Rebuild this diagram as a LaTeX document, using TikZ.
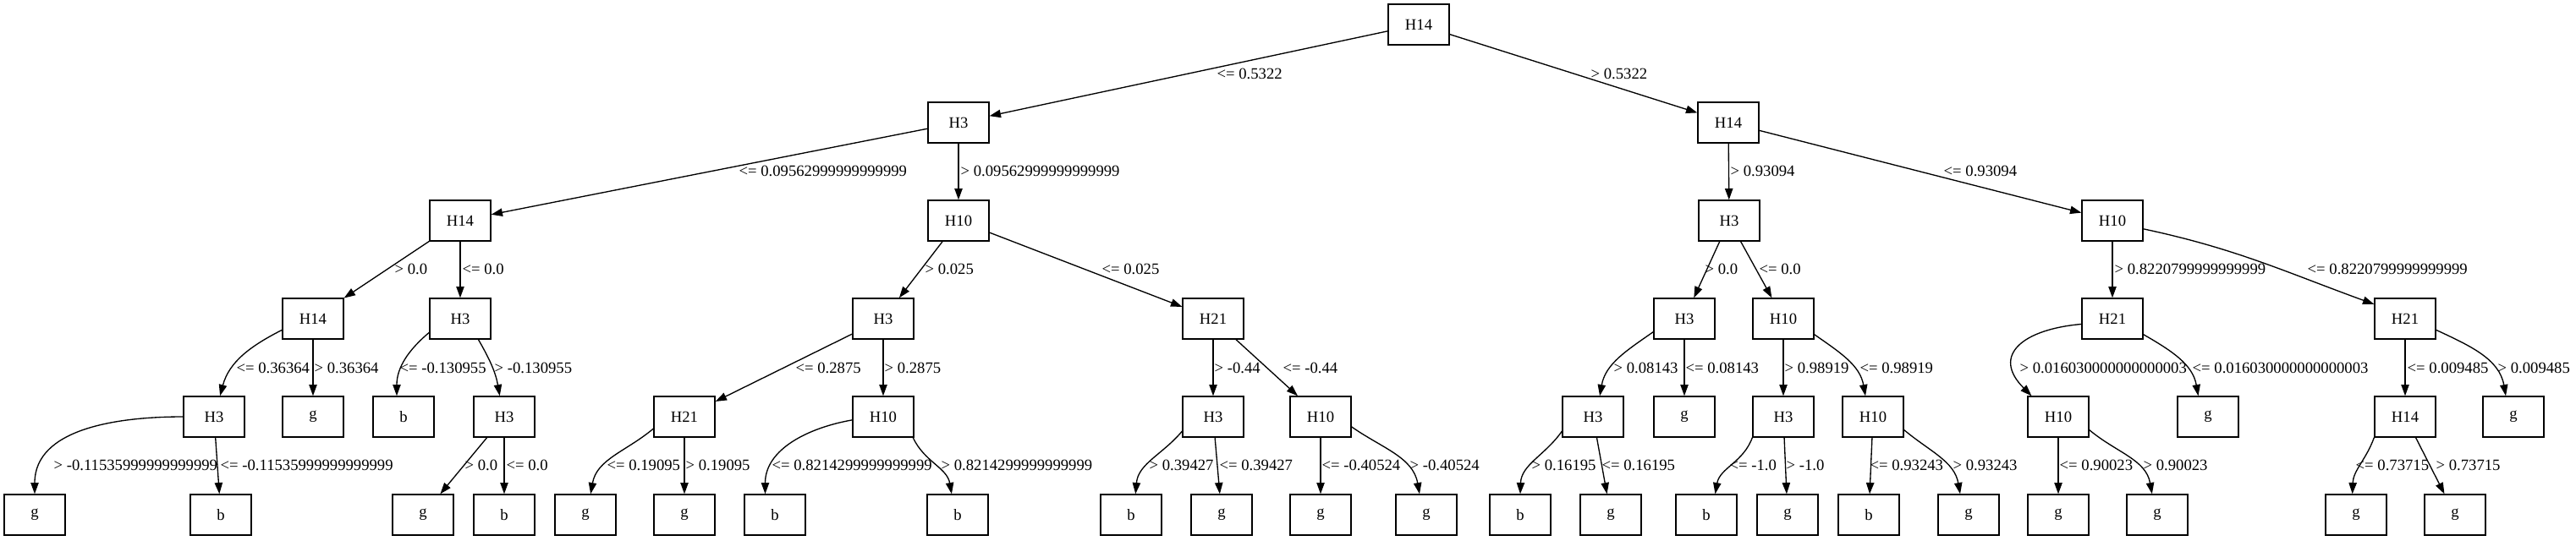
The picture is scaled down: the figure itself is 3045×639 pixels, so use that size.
\documentclass[tikz,border=0pt]{standalone}
\usepackage{fontspec}
\setmainfont{Liberation Serif}
\usetikzlibrary{arrows.meta}

\begin{document}
\begin{tikzpicture}[
	x=0.75pt, y=0.75pt,
	>={Triangle[length=10pt, width=7pt]},
	every node/.style={font=\fontsize{14}{17}\selectfont},
	box/.style={draw, rectangle, line width=1pt, minimum width=54pt, minimum height=36pt, inner sep=0pt},
	edge/.style={->, line width=1pt},
	lbl/.style={anchor=west, inner sep=0pt}
	]
	\useasboundingbox (0,0) rectangle (3045,-639);
	
	% Root and first split
	\node[box] (t)   at (1677,-29)  {H14};
	\node[box] (t1)  at (1133,-145) {H3};
	\node[box] (t2)  at (2043,-145) {H14};
	
	% Level 2
	\node[box] (t11) at (544,-261)  {H14};
	\node[box] (t12) at (1133,-261) {H10};
	\node[box] (t21) at (2044,-261) {H3};
	\node[box] (t22) at (2497,-261) {H10};
	
	% Level 3
	\node[box] (t111) at (370,-377)  {H14};
	\node[box] (t112) at (544,-377)  {H3};
	\node[box] (t121) at (1044,-377) {H3};
	\node[box] (t122) at (1434,-377) {H21};
	\node[box] (t211) at (1991,-377) {H3};
	\node[box] (t212) at (2108,-377) {H10};
	\node[box] (t221) at (2497,-377) {H21};
	\node[box] (t222) at (2843,-377) {H21};
	
	% Level 4
	\node[box] (t1111) at (253,-493)  {H3};
	\node[box] (t1112) at (370,-493)  {g};
	\node[box] (t1121) at (477,-493)  {b};
	\node[box] (t1122) at (596,-493)  {H3};
	\node[box] (t1211) at (809,-493)  {H21};
	\node[box] (t1212) at (1044,-493) {H10};
	\node[box] (t1221) at (1434,-493) {H3};
	\node[box] (t1222) at (1561,-493) {H10};
	\node[box] (t2111) at (1883,-493) {H3};
	\node[box] (t2112) at (1991,-493) {g};
	\node[box] (t2121) at (2108,-493) {H3};
	\node[box] (t2122) at (2214,-493) {H10};
	\node[box] (t2211) at (2433,-493) {H10};
	\node[box] (t2212) at (2610,-493) {g};
	\node[box] (t2221) at (2843,-493) {H14};
	\node[box] (t2222) at (2971,-493) {g};
	
	% Leaves
	\node[box] (t11111) at (41,-609)   {g};
	\node[box] (t11112) at (261,-609)  {b};
	\node[box] (t11221) at (500,-609)  {g};
	\node[box] (t11222) at (596,-609)  {b};
	\node[box] (t12111) at (692,-609)  {g};
	\node[box] (t12112) at (809,-609)  {g};
	\node[box] (t12121) at (916,-609)  {b};
	\node[box] (t12122) at (1132,-609) {b};
	\node[box] (t12211) at (1337,-609) {b};
	\node[box] (t12212) at (1444,-609) {g};
	\node[box] (t12221) at (1561,-609) {g};
	\node[box] (t12222) at (1686,-609) {g};
	\node[box] (t21111) at (1797,-609) {b};
	\node[box] (t21112) at (1904,-609) {g};
	\node[box] (t21211) at (2017,-609) {b};
	\node[box] (t21212) at (2113,-609) {g};
	\node[box] (t21221) at (2209,-609) {b};
	\node[box] (t21222) at (2327,-609) {g};
	\node[box] (t22111) at (2433,-609) {g};
	\node[box] (t22112) at (2550,-609) {g};
	\node[box] (t22211) at (2785,-609) {g};
	\node[box] (t22212) at (2902,-609) {g};
	
	% Edges, top two levels
	\draw[edge] (t) -- (t1) node[lbl] (e-t1) at (1438,-87) {<= 0.5322};
	\draw[edge] (t) -- (t2) node[lbl] (e-t2) at (1880,-87) {> 0.5322};
	\draw[edge] (t1) -- (t11) node[lbl] (e-t11) at (873,-202) {<= 0.09562999999999999};
	\draw[edge] (t1) -- (t12) node[lbl] (e-t12) at (1135,-202) {> 0.09562999999999999};
	\draw[edge] (t2) -- (t21) node[lbl] (e-t21) at (2045,-202) {> 0.93094};
	\draw[edge] (t2) -- (t22) node[lbl] (e-t22) at (2297,-202) {<= 0.93094};
	
	% Edges into level 3
	\draw[edge] (t11) -- (t111) node[lbl] (e-t111) at (466,-318) {> 0.0};
	\draw[edge] (t11) -- (t112) node[lbl] (e-t112) at (546,-318) {<= 0.0};
	\draw[edge] (t12) -- (t121) node[lbl] (e-t121) at (1093,-318) {> 0.025};
	\draw[edge] (t12) -- (t122) node[lbl] (e-t122) at (1302,-318) {<= 0.025};
	\draw[edge] (t21) -- (t211) node[lbl] (e-t211) at (2015,-318) {> 0.0};
	\draw[edge] (t21) -- (t212) node[lbl] (e-t212) at (2079,-318) {<= 0.0};
	\draw[edge] (t22) -- (t221) node[lbl] (e-t221) at (2499,-318) {> 0.8220799999999999};
	\draw[edge] (t22.-15) to[out=-12, in=160] (t222.155) node[lbl] (e-t222) at (2727,-318) {<= 0.8220799999999999};
	
	% Edges into level 4
	\draw[edge] (t111.200) to[out=-153, in=75] (t1111.74) node[lbl] (e-t1111) at (279,-435) {<= 0.36364};
	\draw[edge] (t111) -- (t1112) node[lbl] (e-t1112) at (371,-435) {> 0.36364};
	\draw[edge] (t112.204) to[out=-140, in=90] (t1121.108) node[lbl] (e-t1121) at (472,-435) {<= -0.130955};
	\draw[edge] (t112.-49) to[out=-60, in=100] (t1122.102) node[lbl] (e-t1122) at (584,-435) {> -0.130955};
	\draw[edge] (t121) -- (t1211) node[lbl] (e-t1211) at (940,-435) {<= 0.2875};
	\draw[edge] (t121) -- (t1212) node[lbl] (e-t1212) at (1045,-435) {> 0.2875};
	\draw[edge] (t122) -- (t1221) node[lbl] (e-t1221) at (1435,-435) {> -0.44};
	\draw[edge] (t122) -- (t1222) node[lbl] (e-t1222) at (1516,-435) {<= -0.44};
	\draw[edge] (t211.203) to[out=-145, in=80] (t2111.72) node[lbl] (e-t2111) at (1907,-435) {> 0.08143};
	\draw[edge] (t211) -- (t2112) node[lbl] (e-t2112) at (1992,-435) {<= 0.08143};
	\draw[edge] (t212) -- (t2121) node[lbl] (e-t2121) at (2109,-435) {> 0.98919};
	\draw[edge] (t212.-27) to[out=-35, in=100] (t2122.110) node[lbl] (e-t2122) at (2198,-435) {<= 0.98919};
	\draw[edge] (t221.190) to[out=-175, in=135, looseness=1.7] (t2211.142) node[lbl] (e-t2211) at (2387,-435) {> 0.016030000000000003};
	\draw[edge] (t221.-27) to[out=-30, in=100] (t2212.115) node[lbl] (e-t2212) at (2591,-435) {<= 0.016030000000000003};
	\draw[edge] (t222) -- (t2221) node[lbl] (e-t2221) at (2845,-435) {<= 0.009485};
	\draw[edge] (t222.-20) to[out=-25, in=100] (t2222.110) node[lbl] (e-t2222) at (2952,-435) {> 0.009485};
	
	% Edges into the leaves
	\draw[edge] (t1111.west) to[out=180, in=90] (t11111.north) node[lbl] (e-t11111) at (63,-550) {> -0.11535999999999999};
	\draw[edge] (t1111) -- (t11112) node[lbl] (e-t11112) at (260,-550) {<= -0.11535999999999999};
	\draw[edge] (t1122) -- (t11221) node[lbl] (e-t11221) at (549,-550) {> 0.0};
	\draw[edge] (t1122) -- (t11222) node[lbl] (e-t11222) at (598,-550) {<= 0.0};
	\draw[edge] (t1211.201) to[out=-140, in=80] (t12111.76) node[lbl] (e-t12111) at (717,-550) {<= 0.19095};
	\draw[edge] (t1211) -- (t12112) node[lbl] (e-t12112) at (810,-550) {> 0.19095};
	\draw[edge] (t1212.186) to[out=-170, in=90] (t12121.115) node[lbl] (e-t12121) at (912,-550) {<= 0.8214299999999999};
	\draw[edge] (t1212.-35) to[out=-65, in=100] (t12122.106) node[lbl] (e-t12122) at (1112,-550) {> 0.8214299999999999};
	\draw[edge] (t1221.205) to[out=-130, in=85] (t12211.78) node[lbl] (e-t12211) at (1358,-550) {> 0.39427};
	\draw[edge] (t1221) -- (t12212) node[lbl] (e-t12212) at (1441,-550) {<= 0.39427};
	\draw[edge] (t1222) -- (t12221) node[lbl] (e-t12221) at (1562,-550) {<= -0.40524};
	\draw[edge] (t1222.-18) to[out=-35, in=100] (t12222.108) node[lbl] (e-t12222) at (1666,-550) {> -0.40524};
	\draw[edge] (t2111.205) to[out=-125, in=88] (t21111.north) node[lbl] (e-t21111) at (1810,-550) {> 0.16195};
	\draw[edge] (t2111) -- (t21112) node[lbl] (e-t21112) at (1893,-550) {<= 0.16195};
	\draw[edge] (t2121.south west) to[out=-110, in=80] (t21211.67) node[lbl] (e-t21211) at (2044,-550) {<= -1.0};
	\draw[edge] (t2121) -- (t21212) node[lbl] (e-t21212) at (2111,-550) {> -1.0};
	\draw[edge] (t2122) -- (t21221) node[lbl] (e-t21221) at (2210,-550) {<= 0.93243};
	\draw[edge] (t2122.-23) to[out=-40, in=100] (t21222.112) node[lbl] (e-t21222) at (2308,-550) {> 0.93243};
	\draw[edge] (t2211) -- (t22111) node[lbl] (e-t22111) at (2434,-550) {<= 0.90023};
	\draw[edge] (t2211.-23) to[out=-40, in=100] (t22112.104) node[lbl] (e-t22112) at (2533,-550) {> 0.90023};
	\draw[edge] (t2221.south west) to[out=-110, in=88] (t22211.100) node[lbl] (e-t22211) at (2784,-550) {<= 0.73715};
	\draw[edge] (t2221) -- (t22212) node[lbl] (e-t22212) at (2879,-550) {> 0.73715};
	
\end{tikzpicture}
\end{document}
